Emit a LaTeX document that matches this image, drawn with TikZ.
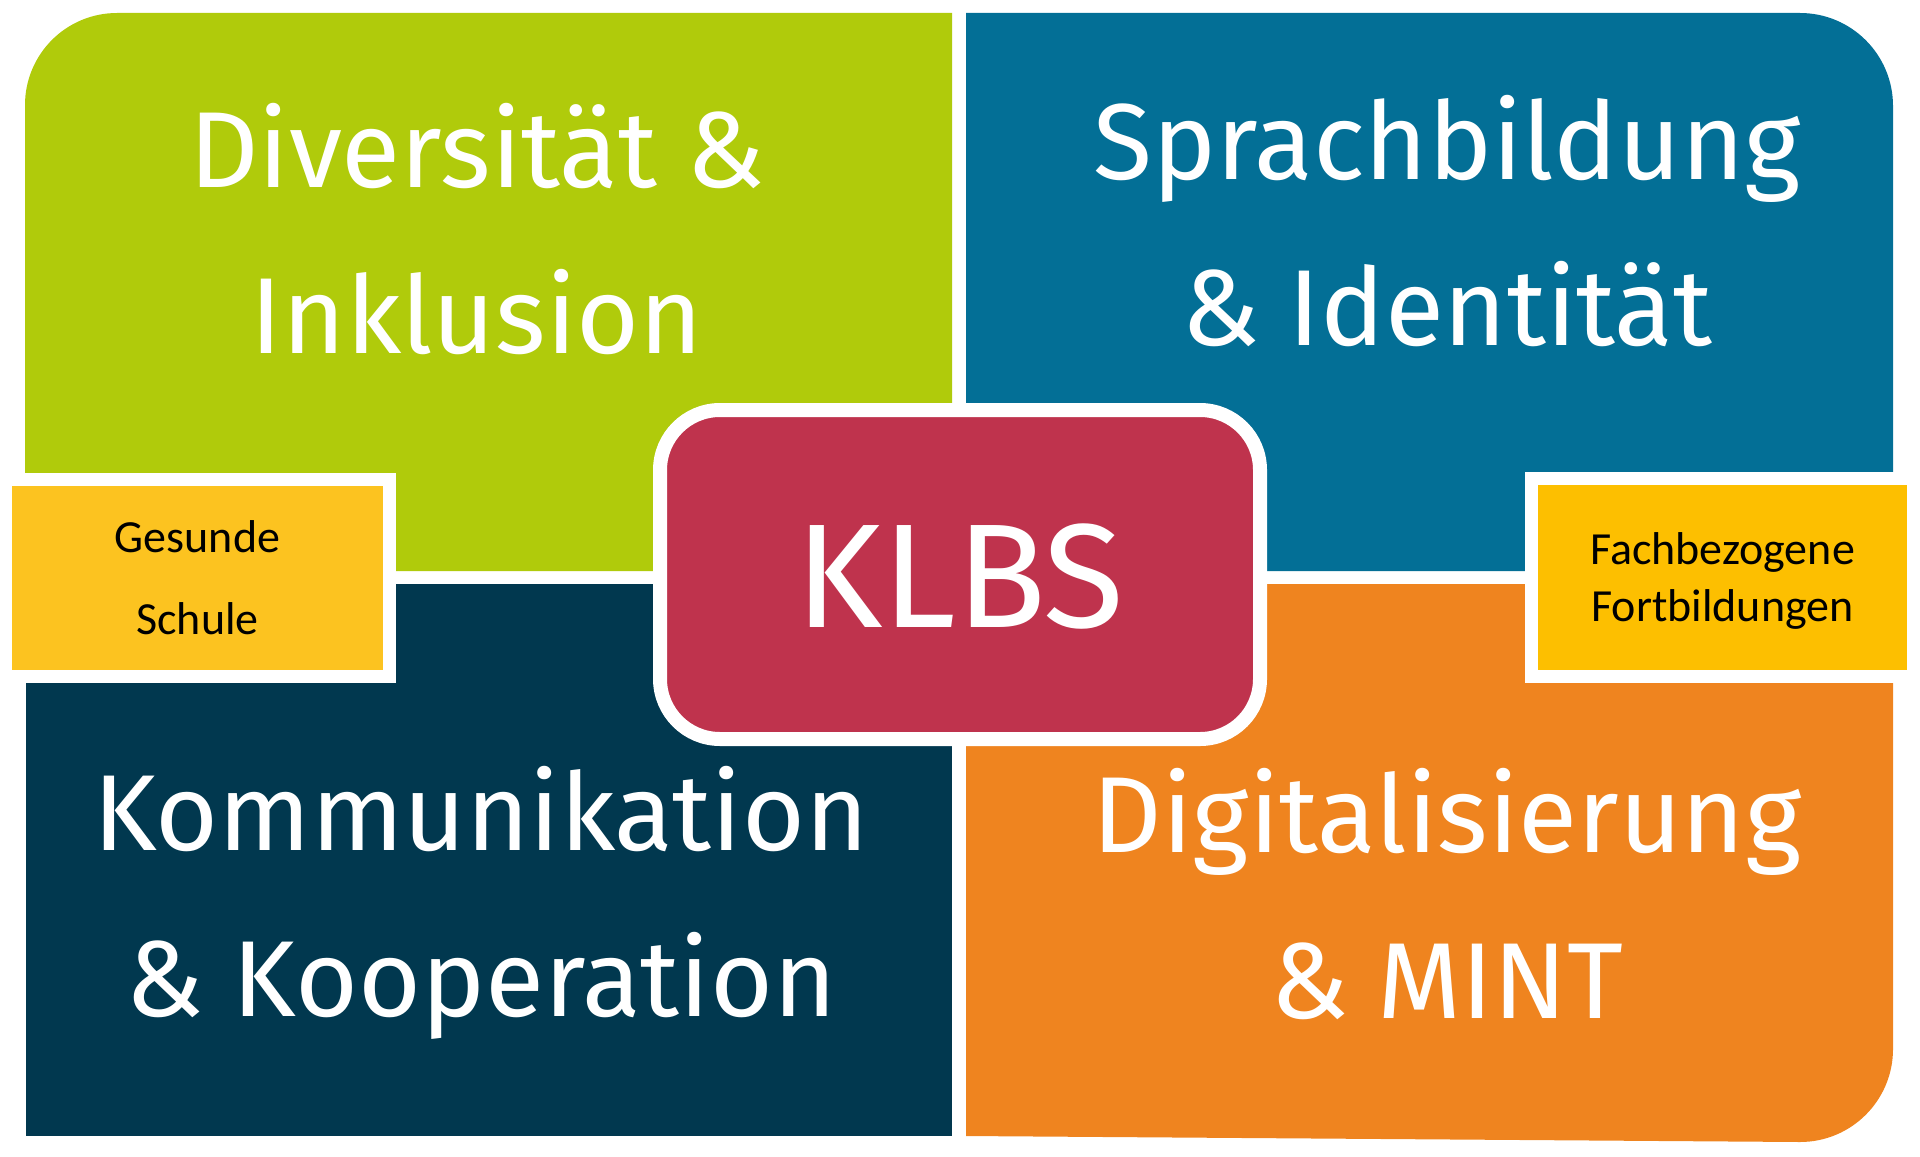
\documentclass[tikz,border=0pt]{standalone}
\usepackage{fontspec}
\setmainfont{Fira Sans}
\newfontfamily\kleinschrift{Carlito}
\usetikzlibrary{positioning}
\definecolor{gruenklbs}{HTML}{B0CB0B}
\definecolor{blauklbs}{HTML}{036F96}
\definecolor{marineklbs}{HTML}{01384F}
\definecolor{orangeklbs}{HTML}{EF841F}
\definecolor{rotklbs}{HTML}{BF334D}
\definecolor{gelbklbs}{HTML}{FCC320}
\definecolor{goldklbs}{HTML}{FDBF00}
\tikzset{
  feldText/.style={
    text=white, align=center, anchor=base, inner sep=0pt,
    font=\fontsize{54}{83}\selectfont
  },
  kastenBase/.style={
    draw=white, line width=6.5pt, inner sep=0pt,
    align=center, text=black
  },
  kastenLinks/.style={kastenBase, fill=gelbklbs,
    minimum width=192pt, minimum height=98.5pt,
    font=\kleinschrift\fontsize{23}{41}\selectfont},
  kastenRechts/.style={kastenBase, fill=goldklbs,
    minimum width=191pt, minimum height=99pt, text depth=0pt,
    font=\kleinschrift\fontsize{23}{28.5}\selectfont},
  kastenMitte/.style={
    draw=white, line width=7pt, fill=rotklbs, rounded corners=30pt,
    minimum width=300pt, minimum height=164.5pt, inner sep=0pt,
    text height=53.5pt, text=white, font=\fontsize{74}{80}\selectfont
  },
}

\begin{document}
\begin{tikzpicture}[x=0.5pt, y=-0.5pt]
  \useasboundingbox (0,0) rectangle (1920,1156);
  % vier Felder
  \fill[gruenklbs] (952,571) -- (25,571) -- (25,105)
    arc[start angle=180, end angle=270, radius=92] -- (952,13) -- cycle;
  \fill[blauklbs] (966,571) -- (966,13) -- (1800,13)
    arc[start angle=270, end angle=360, radius=93] -- (1893,571) -- cycle;
  \fill[marineklbs] (26,584) rectangle (952,1136);
  \fill[orangeklbs] (966,584) -- (1893,584) -- (1893,1049)
    arc[start angle=0, end angle=90, radius=93] -- (966,1136) -- cycle;

  \node[feldText] (div) at (477,353) {Diversität \&\\Inklusion};
  \node[feldText] (spr) at (1447,345) {Sprachbildung\\\& Identität};
  \node[feldText] (kom) at (481,1016) {Kommunikation\\\& Kooperation};
  \node[feldText] (dig) at (1447,1018) {Digitalisierung\\\& MINT};

  % Kaesten
  \node[kastenLinks] (gesund) at (197.5,578) {Gesunde\\Schule};
  \node[kastenRechts] (fach) at (1722.5,577.5) {Fachbezogene\\Fortbildungen};
  \node[kastenMitte] (klbs) at (960,574.5) {KLBS};
\end{tikzpicture}
\end{document}
